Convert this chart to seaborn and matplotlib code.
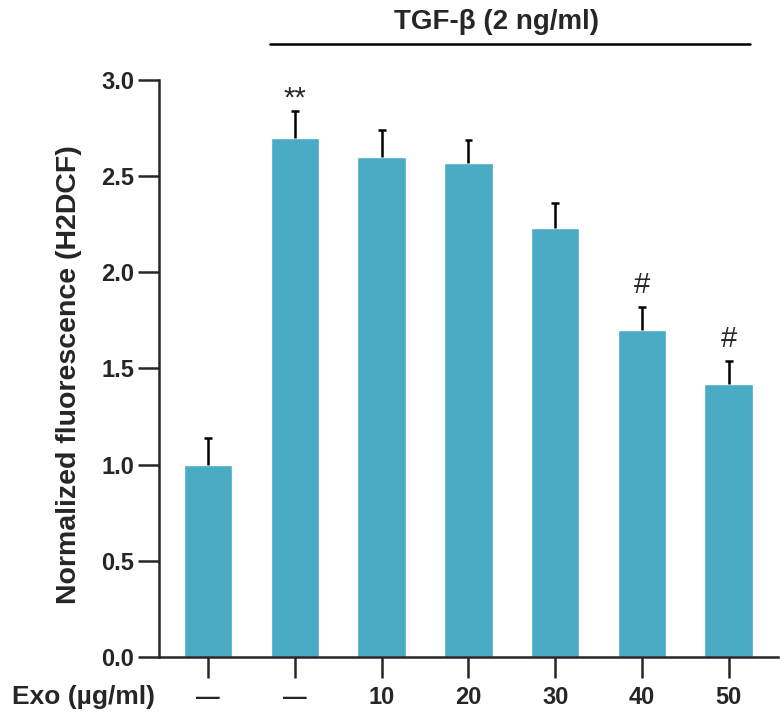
import matplotlib
matplotlib.use("Agg")
import pandas as pd
import matplotlib.pyplot as plt
import seaborn as sns

# data
groups = ["ctrl", "tgf", "10", "20", "30", "40", "50"]
tick_labels = ["—", "—", "10", "20", "30", "40", "50"]
fluor = [1.00, 2.70, 2.60, 2.57, 2.23, 1.70, 1.42]
sem = [0.14, 0.14, 0.14, 0.12, 0.13, 0.12, 0.12]
marks = ["", "**", "", "", "", "#", "#"]

df = pd.DataFrame({"group": groups, "fluor": fluor, "sem": sem})

sns.set_style("ticks")
plt.rcParams["font.family"] = ["Liberation Sans", "DejaVu Sans"]
plt.rcParams["font.weight"] = "bold"

fig = plt.figure(figsize=(7.84, 7.2), dpi=100)
ax = fig.add_axes([0.203, 0.0875, 0.789, 0.8015])

sns.barplot(data=df, x="group", y="fluor", order=groups, color="#4aabc4",
            saturation=1, width=0.56, errorbar=None, ax=ax)

# upper-only error bars
xs = range(len(groups))
tops = df["fluor"] + df["sem"]
ax.vlines(xs, df["fluor"], tops, color="black", lw=1.8, zorder=3)
ax.hlines(tops, [x - 0.045 for x in xs], [x + 0.045 for x in xs], color="black", lw=1.8, zorder=3)

for i, m in enumerate(marks):
    if m:
        off = 0.04 if m == "#" else -0.01
        ax.text(i, tops[i] + off, m, ha="center", va="bottom",
                fontsize=21, fontweight="normal")

ax.set_xlim(-0.565, 6.565)
ax.set_ylim(0, 3.0)
ax.set_yticks([0, 0.5, 1.0, 1.5, 2.0, 2.5, 3.0])
ax.set_yticklabels([f"{v:.1f}" for v in ax.get_yticks()])
ax.set_xticks(list(xs))
ax.set_xticklabels(tick_labels)
ax.set_xlabel("")
ax.set_ylabel("Normalized fluorescence (H2DCF)", fontsize=20.5, fontweight="bold")
ax.yaxis.set_label_coords(-0.124, 0.489)
ax.tick_params(axis="both", length=15, width=1.8, labelsize=17)
ax.tick_params(axis="x", pad=6)
ax.tick_params(axis="y", pad=3)
for lab in ax.get_xticklabels() + ax.get_yticklabels():
    lab.set_fontweight("bold")
for s in ["left", "bottom"]:
    ax.spines[s].set_linewidth(1.8)
sns.despine(ax=ax)

fig.text(84 / 784, 1 - 697 / 720, "Exo (µg/ml)", ha="center", va="center",
         fontsize=19, fontweight="bold")

# treatment bracket
line_y = 1 - 44 / 720
fig.add_artist(plt.Line2D([270 / 784, 750 / 784], [line_y, line_y], color="black", lw=1.8))
fig.text(496 / 784, 1 - 22 / 720, "TGF-β (2 ng/ml)", ha="center", va="center",
         fontsize=20, fontweight="bold")

fig.savefig("out.png", dpi=100)
